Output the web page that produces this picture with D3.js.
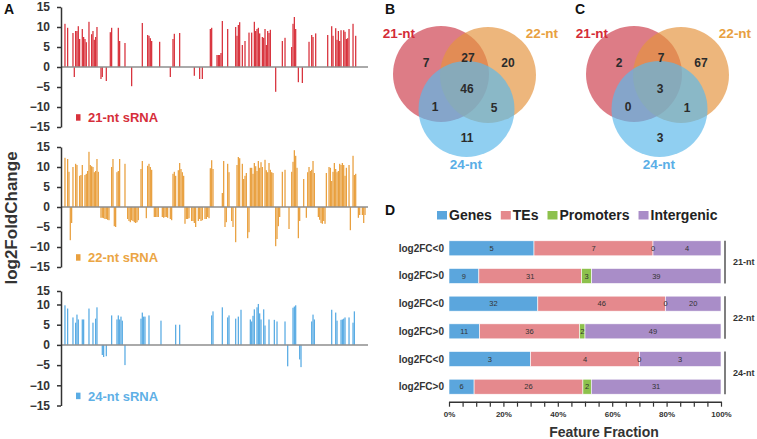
<!DOCTYPE html>
<html>
<head>
<meta charset="UTF-8">
<title>sRNA log2FC figure</title>
<style>
body { margin: 0; background: #fff; }
svg { display: block; font-family: "Liberation Sans", Arial, sans-serif; }
</style>
</head>
<body>
<svg width="757" height="439"></svg>
<script src="https://d3js.org/d3.v7.min.js"></script>
<script>
// ---- panel A data: [locus index, log2 fold change]
const nLoci = 228;
const yTicks = [-15, -10, -5, 0, 5, 10, 15];
const fc21 = [[1,10.8],[3,9.8],[7,8.5],[8,-2.5],[9,9],[10,9],[11,10.2],[12,7],[14,9.5],[15,7.5],[16,7],[17,6.2],
  [19,11.3],[21,8.2],[22,9],[23,6.8],[24,7.5],[25,10],[28,-3],[29,-2.5],[32,-3.5],[35,8.7],[36,9.8],[41,9.8],[42,6.5],
  [46,6],[51,-4.8],[59,11],[63,8],[64,7.8],[65,7.2],[66,6.5],[72,6.3],[80,-2.5],[82,7],[83,8.3],[87,8.5],[98,-2.2],
  [102,-3],[104,-3],[110,9.5],[111,9.8],[115,3],[116,3],[117,3],[118,3.5],[119,11.5],[123,9.5],[129,10],[130,7.8],
  [131,10.5],[132,11.2],[134,5.5],[136,6.5],[139,8.6],[141,8.6],[143,11.3],[144,9],[145,9.5],[146,9.8],[147,8.4],
  [149,7.5],[150,7.3],[151,9.5],[152,5.5],[153,9],[154,8.5],[155,9.3],[159,-6.2],[164,6.5],[166,7.3],[171,5],
  [172,10.8],[173,12.5],[174,9.5],[176,-3.8],[179,-4],[184,6.3],[186,8],[187,7.5],[189,8.4],[198,8],[201,10.2],
  [202,7.8],[204,9.7],[205,6.8],[206,9],[207,6.5],[208,9.2],[210,9.2],[211,8.8],[212,7],[213,7.2],[214,9.5],
  [217,10.8],[219,7.8]];
const fc22 = [[1,12.3],[3,12],[4,8.8],[5,-8.3],[6,-4],[7,10],[9,10.8],[10,10.5],[12,7.8],[13,8],[14,10.5],[16,8],
  [17,8.3],[18,9],[19,13.8],[20,10.5],[21,10.2],[22,10],[23,8.7],[24,9],[25,12],[26,8.8],[28,-2.7],[29,-2.7],
  [30,-2.8],[31,-3],[32,-3],[33,-3.2],[34,-3.3],[36,10],[37,12],[38,-4.8],[39,-5],[40,8.7],[41,9],[42,12],[46,10.8],
  [48,-3],[49,-3.5],[50,-3.8],[51,-3.3],[52,-3.5],[53,-3.8],[54,-4],[55,-3.8],[56,-3.3],[58,9.5],[59,11.5],[62,-2.8],
  [63,10.3],[64,10.8],[65,10],[66,9.3],[68,-2.5],[69,-2.5],[70,-2.5],[71,-2.5],[74,-2.5],[75,-2.7],[76,-2.5],
  [77,-2.5],[78,-2.7],[80,-3],[81,-3.3],[82,8.3],[83,8.8],[84,7.8],[86,9.2],[87,11],[88,9.5],[89,8.7],[90,7.8],
  [91,-4.2],[92,-3],[93,-3],[94,-2.8],[96,-3.5],[97,-3.5],[98,-4],[99,-5],[101,-3.5],[102,-3],[103,-3.5],[104,-3.3],
  [106,-3],[107,-3],[108,-2.5],[109,-2.8],[110,9.7],[111,11.7],[112,9.5],[119,3.5],[120,11.5],[121,-5],[122,-3.8],
  [123,10.8],[124,8.7],[126,-3.5],[127,-5],[129,-8.8],[130,10.5],[131,12.5],[132,12.2],[134,10.8],[135,7],[136,7.8],
  [137,8.5],[138,-7.8],[139,-6.3],[140,9.8],[141,9.8],[142,8.3],[143,11],[144,10.2],[145,9],[146,11.5],[147,9.8],
  [148,11.2],[149,10],[151,11.8],[152,9.2],[153,8.7],[154,11],[155,9.3],[156,8.7],[157,8.5],[159,-9.8],[160,-8],
  [161,-4.8],[162,-2.5],[164,8.8],[166,9.3],[169,-5.5],[171,8.8],[172,11.3],[173,14.2],[174,12.8],[175,9.8],
  [176,-7.8],[177,-3.5],[180,7],[182,-2.7],[183,8.7],[184,10],[185,9],[186,9.3],[187,11.5],[188,8.5],[191,-2.5],
  [192,-3.2],[193,-4],[194,-4.2],[195,-3.5],[196,-4.2],[197,8.5],[199,10],[200,9.8],[201,6.5],[202,8.8],[203,11],
  [204,9.5],[205,8.7],[206,9],[207,10.8],[208,10.5],[209,11],[210,10.5],[211,7.8],[212,9.8],[214,10.5],[215,-5.8],
  [217,12.8],[218,8],[219,8.3],[221,-2.7],[222,-2],[224,-2],[225,-4],[226,-2]];
const fc24 = [[1,9.8],[3,9],[7,6.8],[9,5.5],[10,7.5],[11,6.3],[14,6.3],[15,6.3],[19,9],[22,5.5],[24,6.5],[25,9.3],
  [29,-2.5],[30,-3],[32,-2.8],[36,7.3],[40,6.3],[41,7.3],[42,6.3],[43,7],[44,6],[46,-5],[58,6.5],[59,8],[60,7],
  [61,7],[64,7.3],[73,6],[84,5],[87,5],[111,7.3],[112,8.3],[119,9.3],[123,6.8],[124,7.3],[129,6.5],[131,7],[133,8.7],
  [140,6.3],[141,5.8],[142,7.2],[143,8.8],[145,9.3],[146,10.2],[147,7.8],[148,6.3],[150,8.8],[151,4.8],[154,6.3],
  [158,6.2],[160,5.8],[166,5.8],[168,-5.3],[172,9.2],[173,9.5],[174,9.8],[177,-3.6],[178,-5.5],[186,5.8],[187,7.5],
  [188,6.3],[201,8.7],[204,8],[205,6],[208,6.2],[209,6.3],[210,6.5],[211,6.8],[214,6.8],[217,5.5],[218,8.3]];

// ---- panels B / C data
const vennSets = ["21-nt", "22-nt", "24-nt"];
// regions: 21 only, 21&22, 22 only, all three, 21&24, 22&24, 24 only
const vennB = [7, 27, 20, 46, 1, 5, 11];
const vennC = [2, 7, 67, 3, 0, 1, 3];

// ---- panel D data
const featNames = ["Genes", "TEs", "Promoters", "Intergenic"];
const rowNames = ["log2FC<0", "log2FC>0", "log2FC<0", "log2FC>0", "log2FC<0", "log2FC>0"];
const rowGroups = ["21-nt", "21-nt", "22-nt", "22-nt", "24-nt", "24-nt"];
const featCounts = [[5,7,0,4],[9,31,3,39],[32,46,0,20],[11,36,2,49],[3,4,0,3],[6,26,2,31]];
const fracTicks = [0,0.05,0.1,0.15,0.2,0.25,0.3,0.35,0.4,0.45,0.5,0.55,0.6,0.65,0.7,0.75,0.8,0.85,0.9,0.95,1];

const font = '"Liberation Sans", Arial, sans-serif';
let svg = d3.select("svg");

// panel letters
[["A",4,14],["B",385,14],["C",575,14],["D",385,215]].forEach(l => {
  svg.append("text").attr("x", l[1]).attr("y", l[2]).text(l[0])
    .attr("font-size", 14).attr("font-weight", "bold").attr("fill", "#111");
});

// ================= Panel A =================
let x = d3.scaleBand().domain(d3.range(nLoci)).range([63, 367]).paddingInner(0.05);

let panelsA = [
  {data: fc21, name: "21-nt sRNA", color: "#d8323c", label: "#d62e3a",
   y: d3.scaleLinear().domain([-15, 15]).range([127, 7])},
  {data: fc22, name: "22-nt sRNA", color: "#e9a03f", label: "#eba544",
   y: d3.scaleLinear().domain([-15, 15]).range([267, 147])},
  // the bottom panel's axis is squeezed above 10 in the original figure
  {data: fc24, name: "24-nt sRNA", color: "#5aace4", label: "#5fb0e6",
   y: d3.scaleLinear().domain([-15, 10, 15]).range([405.5, 304.5, 291])}
];

panelsA.forEach(p => {
  let g = svg.append("g");
  g.selectAll("rect.bar").data(p.data).join("rect")
    .attr("class", "bar")
    .attr("x", d => x(d[0]))
    .attr("width", x.bandwidth())
    .attr("y", d => p.y(Math.max(0, d[1])))
    .attr("height", d => Math.abs(p.y(d[1]) - p.y(0)))
    .attr("fill", p.color);

  g.append("line")
    .attr("x1", 61).attr("x2", 368)
    .attr("y1", p.y(0)).attr("y2", p.y(0))
    .attr("stroke", "#8e8e8e").attr("stroke-width", 1.5);

  let ax = g.append("g").attr("transform", "translate(61,0)")
    .call(d3.axisLeft(p.y).tickValues(yTicks).tickSize(4).tickPadding(7).tickSizeOuter(0));
  ax.attr("font-family", font).attr("font-size", 12);
  ax.select(".domain").attr("stroke", "#333").attr("stroke-width", 1.5);
  ax.selectAll(".tick line").attr("stroke", "#333").attr("stroke-width", 1.5);
  ax.selectAll(".tick text").attr("font-weight", "bold").attr("fill", "#333");

  let ly = p.y(-13.8);
  g.append("rect").attr("x", 76).attr("y", ly - 8).attr("width", 4.5).attr("height", 6.5).attr("fill", p.color);
  g.append("text").attr("x", 88).attr("y", ly).text(p.name)
    .attr("font-size", 13).attr("font-weight", "bold").attr("fill", p.label);
});

svg.append("text")
  .attr("transform", "translate(17,218) rotate(-90)")
  .attr("text-anchor", "middle")
  .attr("font-size", 17).attr("font-weight", "bold").attr("fill", "#333")
  .text("log2FoldChange");

// ================= Panels B, C (Venn) =================
const vennFill = ["#cd3e4c", "#e4943e", "#5bb8ea"];
const vennText = ["#d42b37", "#e8a040", "#5aaee6"];
const circles = [[441, 74], [488, 75], [466.5, 109]];
const radius = 48;
const regionPos = [[426, 63], [468, 58], [508, 63], [467, 89], [435, 107], [494, 108], [467, 138]];
const setLabelPos = [[399, 38], [542, 38], [466, 169]];

function drawVenn(values, dx) {
  let g = svg.append("g").attr("transform", `translate(${dx},0)`);
  g.selectAll("circle").data(circles).join("circle")
    .attr("cx", d => d[0]).attr("cy", d => d[1]).attr("r", radius)
    .attr("fill", (d, i) => vennFill[i]).attr("fill-opacity", 0.68);
  g.selectAll("text.num").data(values).join("text")
    .attr("class", "num")
    .attr("x", (d, i) => regionPos[i][0]).attr("y", (d, i) => regionPos[i][1])
    .attr("dy", "0.36em").attr("text-anchor", "middle")
    .attr("font-size", 12).attr("font-weight", "bold").attr("fill", "#2b2b2b")
    .text(d => d);
  g.selectAll("text.set").data(vennSets).join("text")
    .attr("class", "set")
    .attr("x", (d, i) => setLabelPos[i][0]).attr("y", (d, i) => setLabelPos[i][1])
    .attr("text-anchor", "middle")
    .attr("font-size", 13.5).attr("font-weight", "bold").attr("fill", (d, i) => vennText[i])
    .text(d => d);
}
drawVenn(vennB, 0);
drawVenn(vennC, 193);

// ================= Panel D =================
const featColors = ["#5ba6dd", "#e5898d", "#8dc14c", "#a98dc8"];
let rowIds = d3.range(rowNames.length);
let xD = d3.scaleLinear().domain([0, 1]).range([449, 721]);
let yD = d3.scalePoint().domain(rowIds).range([248.3, 386.7]);
const barH = 15;

let rows = featCounts.map((c, i) => {
  let o = {id: i};
  featNames.forEach((k, j) => o[k] = c[j]);
  return o;
});
let series = d3.stack().keys(featNames).offset(d3.stackOffsetExpand)(rows);

let gD = svg.append("g");
series.forEach((s, si) => {
  gD.append("g").selectAll("rect").data(s).join("rect")
    .attr("x", d => xD(d[0]))
    .attr("width", d => Math.max(0, xD(d[1]) - xD(d[0])))
    .attr("y", d => yD(d.data.id) - barH / 2)
    .attr("height", barH)
    .attr("fill", featColors[si])
    .attr("stroke", "#fff").attr("stroke-width", 0.6);
});
series.forEach((s, si) => {
  gD.append("g").selectAll("text").data(s).join("text")
    .attr("x", d => (xD(d[0]) + xD(d[1])) / 2)
    .attr("y", d => yD(d.data.id))
    .attr("dy", "0.35em").attr("text-anchor", "middle")
    .attr("font-size", 7.5).attr("fill", "#333")
    .text(d => d.data[s.key]);
});

// row labels
gD.selectAll("text.row").data(rowIds).join("text")
  .attr("class", "row")
  .attr("x", 444).attr("y", d => yD(d)).attr("dy", "0.35em")
  .attr("text-anchor", "end").attr("font-size", 10).attr("font-weight", "bold").attr("fill", "#333")
  .text(d => rowNames[d]);

// group brackets
let groupNames = Array.from(new Set(rowGroups));
groupNames.forEach(gname => {
  let ids = rowIds.filter(i => rowGroups[i] === gname);
  let y0 = yD(ids[0]) - barH / 2, y1 = yD(ids[ids.length - 1]) + barH / 2;
  gD.append("line").attr("x1", 725).attr("x2", 725).attr("y1", y0).attr("y2", y1)
    .attr("stroke", "#555").attr("stroke-width", 1.5);
  gD.append("text").attr("x", 733).attr("y", (y0 + y1) / 2).attr("dy", "0.35em")
    .attr("font-size", 9).attr("font-weight", "bold").attr("fill", "#333").text(gname);
});

// x axis
let axD = gD.append("g").attr("transform", "translate(0,401.7)")
  .call(d3.axisBottom(xD).tickValues(fracTicks).tickSize(5).tickPadding(5).tickSizeOuter(0)
    .tickFormat(d => Math.round(d * 100) % 20 === 0 ? Math.round(d * 100) + "%" : ""));
axD.attr("font-family", font).attr("font-size", 8);
axD.select(".domain").attr("stroke", "#333").attr("stroke-width", 1.5);
axD.selectAll(".tick line").attr("stroke", "#333").attr("stroke-width", 1.2);
axD.selectAll(".tick text").attr("font-weight", "bold").attr("fill", "#333");

gD.append("text").attr("x", 604).attr("y", 437).attr("text-anchor", "middle")
  .attr("font-size", 14).attr("font-weight", "bold").attr("fill", "#333").text("Feature Fraction");

// legend
let lx = 437;
featNames.forEach((name, i) => {
  gD.append("rect").attr("x", lx).attr("y", 211).attr("width", 10).attr("height", 8.5).attr("fill", featColors[i]);
  let t = gD.append("text").attr("x", lx + 12).attr("y", 220)
    .attr("font-size", 14).attr("font-weight", "bold").attr("fill", "#222").text(name);
  lx += 12 + t.node().getComputedTextLength() + 9;
});
</script>
</body>
</html>
